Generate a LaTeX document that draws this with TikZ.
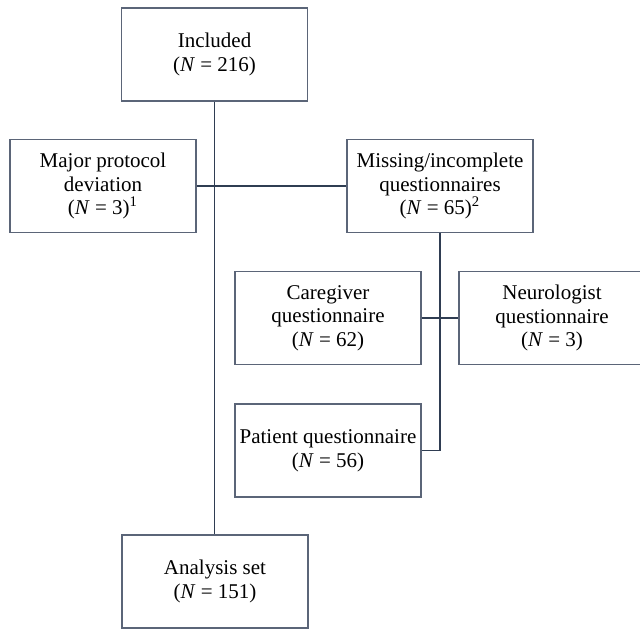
\documentclass[tikz,border=0pt]{standalone}
\usepackage{fontspec}
\setmainfont{Liberation Serif}
\usepackage{tikz}
\definecolor{boxcol}{HTML}{5B6578}
\definecolor{linecol}{HTML}{2F3D52}
\newcommand{\N}{\textit{N}}

\begin{document}
\begin{tikzpicture}[x=0.5pt,y=-0.5pt,line width=0.8pt,
  box/.style={draw=boxcol,line width=0.7pt,minimum width=93pt,minimum height=46.5pt,inner sep=0pt,align=center,font=\fontsize{10.5}{11.8}\selectfont},
  conn/.style={draw=linecol}]
\useasboundingbox (0,0) rectangle (640,629);
\node[box] (incl) at (214.5,54.5) {Included\\(\N{} = 216)};
\node[box] (major) at (103,186) {Major protocol\\deviation\\(\N{} = 3)\textsuperscript{1}};
\node[box] (miss) at (440,186) {Missing/incomplete\\questionnaires\\(\N{} = 65)\textsuperscript{2}};
\node[box] (care) at (328,318) {Caregiver\\questionnaire\\(\N{} = 62)};
\node[box] (neuro) at (552,318) {Neurologist\\questionnaire\\(\N{} = 3)};
\node[box] (pat) at (328,450.5) {Patient questionnaire\\(\N{} = 56)};
\node[box] (anal) at (215,581.5) {Analysis set\\(\N{} = 151)};
\draw[conn] (incl.south) -- (incl.south |- anal.north);
\draw[conn] (major.east) -- (miss.west);
\draw[conn] (care.east) -- (neuro.west);
\draw[conn] (miss.south) -- (miss.south |- pat.east) -- (pat.east);
\end{tikzpicture}
\end{document}
